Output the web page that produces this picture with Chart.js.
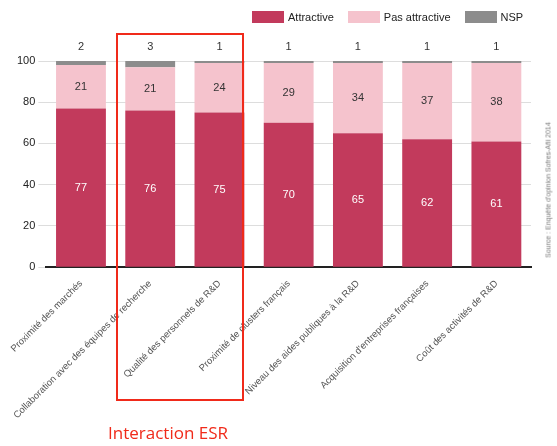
<!DOCTYPE html>
<html><head><meta charset="utf-8">
<script src="https://cdn.jsdelivr.net/npm/chart.js@4"></script>
<style>
html,body{margin:0;padding:0;background:#fff;}
#wrap{position:relative;width:557px;height:446px;font-family:"Liberation Sans",sans-serif;}
#box{position:absolute;left:116px;top:33px;width:128px;height:368px;border:2px solid #f02a1a;box-sizing:border-box;}
#esr{position:absolute;left:108px;top:421px;font-family:"Open Sans",sans-serif;font-size:17px;color:#f02a1a;}
#src{position:absolute;left:548px;top:190px;transform:translate(-50%,-50%) rotate(-90deg);font-size:7px;color:#777;white-space:nowrap;}
#leg{position:absolute;left:252px;top:11px;font-size:11px;color:#222;display:flex;align-items:center;}
#leg span.b{display:inline-block;width:32px;height:12px;margin-right:4px;}
#leg span.t{margin-right:14px;}
</style></head><body>
<div id="wrap"><canvas id="c" width="557" height="446"></canvas>
<div id="leg"><span class="b" style="background:#c23a5c"></span><span class="t">Attractive</span><span class="b" style="background:#f5c3cd"></span><span class="t">Pas attractive</span><span class="b" style="background:#8c8c8c"></span><span class="t">NSP</span></div>
<div id="box"></div><div id="esr">Interaction ESR</div><div id="src">Source : Enquête d'opinion Sofres-Afii 2014</div></div>
<script>
const categories=["Proximité des marchés","Collaboration avec des équipes de recherche","Qualité des personnels de R&D","Proximité de clusters français","Niveau des aides publiques à la R&D","Acquisition d'entreprises françaises","Coût des activités de R&D"];
const attractive=[77,76,75,70,65,62,61];
const pasAttractive=[21,21,24,29,34,37,38];
const nsp=[2,3,1,1,1,1,1];
const yTicks=[0,20,40,60,80,100];
const labelPlugin={id:'lbl',afterDatasetsDraw(ch){
 const ctx=ch.ctx;ctx.save();ctx.textAlign='center';ctx.textBaseline='middle';
 ctx.font='11px "Liberation Sans",sans-serif';
 const m0=ch.getDatasetMeta(0).data,m1=ch.getDatasetMeta(1).data;
 const y=ch.scales.y;
 categories.forEach((c,i)=>{
  ctx.fillStyle='#fff';ctx.fillText(attractive[i],m0[i].x,y.getPixelForValue(attractive[i]/2));
  ctx.fillStyle='#333';ctx.fillText(pasAttractive[i],m1[i].x,y.getPixelForValue(attractive[i]+pasAttractive[i]/2));
  ctx.fillText(nsp[i],m0[i].x,ch.chartArea.top-14);
 });ctx.restore();}};
new Chart(document.getElementById('c'),{type:'bar',
 data:{labels:categories,datasets:[
  {label:'Attractive',data:attractive,backgroundColor:'#c23a5c'},
  {label:'Pas attractive',data:pasAttractive,backgroundColor:'#f5c3cd'},
  {label:'NSP',data:nsp,backgroundColor:'#8c8c8c'}]},
 options:{responsive:false,animation:false,
  layout:{padding:{left:14,right:26,top:61,bottom:22}},
  datasets:{bar:{categoryPercentage:0.72,barPercentage:1}},
  plugins:{tooltip:{enabled:false},legend:{display:false}},
  scales:{
   x:{stacked:true,grid:{display:false},border:{color:'#222',width:2},
      ticks:{minRotation:45,maxRotation:45,color:'#555',font:{size:9.5,family:'"Liberation Sans",sans-serif'}}},
   y:{stacked:true,min:0,max:100,afterBuildTicks(a){a.ticks=yTicks.map(v=>({value:v}));},
      grid:{color:'#ddd'},border:{display:false},
      ticks:{color:'#222',font:{size:11,family:'"Liberation Sans",sans-serif'}}}}},
 plugins:[labelPlugin]});
</script></body></html>
